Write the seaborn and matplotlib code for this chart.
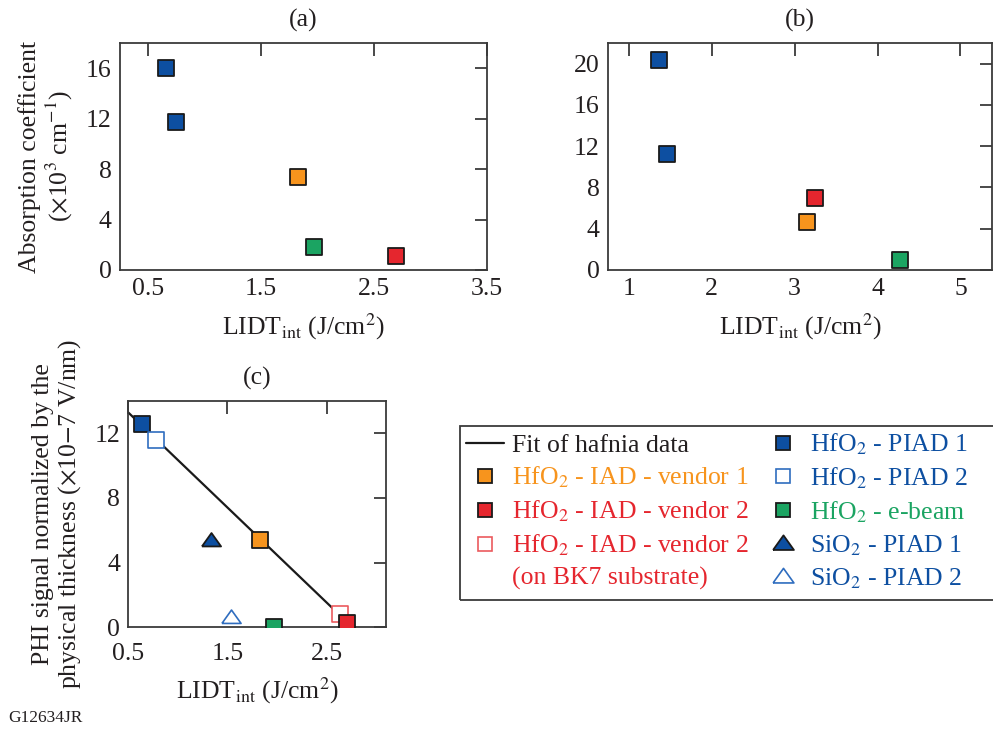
import numpy as np
import pandas as pd
import matplotlib
matplotlib.use("Agg")
import matplotlib.pyplot as plt
from matplotlib.lines import Line2D
from matplotlib.patches import Rectangle
import seaborn as sns

sns.set_theme(style="white")
plt.rcParams["font.family"] = ["Liberation Serif", "DejaVu Serif"]
plt.rcParams["mathtext.fontset"] = "stix"

# ---- colours per deposition process ----
BLUE = "#0D4FA1"
ORANGE = "#F7941D"
RED = "#E5262E"
GREEN = "#1BA462"
OPEN_BLUE = "#2F6DBF"
OPEN_RED = "#EB5A5E"
TEXT = "#231F20"

# ---- (a) absorption coefficient vs LIDT ----
a_series = ["HfO2 PIAD 1", "HfO2 PIAD 1", "HfO2 IAD vendor 1", "HfO2 e-beam", "HfO2 IAD vendor 2"]
a_lidt = [0.66, 0.75, 1.83, 1.97, 2.69]
a_absorption = [16.0, 11.7, 7.4, 1.8, 1.1]

# ---- (b) absorption coefficient vs LIDT ----
b_series = ["HfO2 PIAD 1", "HfO2 PIAD 1", "HfO2 IAD vendor 2", "HfO2 IAD vendor 1", "HfO2 e-beam"]
b_lidt = [1.36, 1.46, 3.25, 3.15, 4.27]
b_absorption = [20.4, 11.2, 7.0, 4.7, 1.0]

# ---- (c) normalized PHI signal vs LIDT ----
c_series = ["HfO2 PIAD 1", "HfO2 PIAD 2", "SiO2 PIAD 1", "HfO2 IAD vendor 1",
            "SiO2 PIAD 2", "HfO2 e-beam", "HfO2 IAD vendor 2 BK7", "HfO2 IAD vendor 2"]
c_lidt = [0.64, 0.78, 1.33, 1.83, 1.54, 1.97, 2.64, 2.71]
c_phi = [12.57, 11.56, 5.38, 5.4, 0.64, 0.0, 0.82, 0.25]

# hafnia points used for the linear fit (e-beam sample excluded)
fit_series = ["HfO2 PIAD 1", "HfO2 PIAD 2", "HfO2 IAD vendor 1", "HfO2 IAD vendor 2 BK7", "HfO2 IAD vendor 2"]
fit_x_range = [0.5, 2.57]

# a slightly flattened triangle marker
TRI = [(-1.0, -0.62), (1.0, -0.62), (0.0, 0.78), (-1.0, -0.62)]

# marker style of every sample type: (marker, face, edge, edge width)
styles = {
    "HfO2 PIAD 1": ("s", BLUE, "#1a1a1a", 1.3),
    "HfO2 PIAD 2": ("s", "white", OPEN_BLUE, 1.2),
    "HfO2 IAD vendor 1": ("s", ORANGE, "#1a1a1a", 1.3),
    "HfO2 IAD vendor 2": ("s", RED, "#1a1a1a", 1.3),
    "HfO2 IAD vendor 2 BK7": ("s", "white", OPEN_RED, 1.2),
    "HfO2 e-beam": ("s", GREEN, "#1a1a1a", 1.3),
    "SiO2 PIAD 1": (TRI, BLUE, "#1a1a1a", 1.3),
    "SiO2 PIAD 2": (TRI, "white", OPEN_BLUE, 1.2),
}

FS = 18.5
fig = plt.figure(figsize=(9.93, 7.33), dpi=100)
W, H = 993, 733


def add_axes(left, top, right, bottom):
    return fig.add_axes([left / W, 1 - bottom / H, (right - left) / W, (bottom - top) / H])


ax_a = add_axes(120, 43, 487, 270)
ax_b = add_axes(608, 43, 992, 270)
ax_c = add_axes(128.3, 401, 386, 627.3)


def scatter(ax, series, xs, ys):
    df = pd.DataFrame({"series": series, "x": xs, "y": ys})
    for name, grp in df.groupby("series", sort=False):
        m, fc, ec, lw = styles[name]
        size = 190 if m is TRI else 120
        sns.scatterplot(data=grp, x="x", y="y", ax=ax, marker=m, s=size,
                        color=fc, edgecolor=ec, linewidth=lw, zorder=3, legend=False)


def style_axes(ax, title, xlim, ylim, xticks, yticks, xpad=6):
    ax.set_xlim(*xlim)
    ax.set_ylim(*ylim)
    ax.set_xticks(xticks)
    ax.set_yticks(yticks)
    ax.tick_params(direction="in", length=9, width=1.3, color="#3a3a3a",
                   top=True, right=True, labelsize=FS, labelcolor=TEXT, pad=6)
    ax.tick_params(axis="x", pad=xpad)
    for sp in ax.spines.values():
        sp.set_visible(True)
        sp.set_color("#3a3a3a")
        sp.set_linewidth(1.3)
    ax.set_title(title, fontsize=FS, color=TEXT, pad=12)
    ax.set_xlabel(r"LIDT$_{\mathrm{int}}$ (J/cm$^{2}$)", fontsize=FS, color=TEXT, labelpad=8)
    ax.set_ylabel("")


scatter(ax_a, a_series, a_lidt, a_absorption)
style_axes(ax_a, "(a)", (0.25, 3.5), (0, 18), [0.5, 1.5, 2.5, 3.5], [0, 4, 8, 12, 16])
ax_a.set_ylabel("Absorption coefficient\n" + r"($\times$10$^{3}$ cm$^{-1}$)",
                fontsize=FS, color=TEXT, linespacing=1.1, labelpad=8)

scatter(ax_b, b_series, b_lidt, b_absorption)
style_axes(ax_b, "(b)", (0.75, 5.38), (0, 22), [1, 2, 3, 4, 5], [0, 4, 8, 12, 16, 20])

# fitted line of the hafnia data
fit_df = pd.DataFrame({"series": c_series, "x": c_lidt, "y": c_phi})
fit_df = fit_df[fit_df["series"].isin(fit_series)]
slope, intercept = np.polyfit(fit_df["x"], fit_df["y"], 1)
line_x = np.array(fit_x_range)
line_df = pd.DataFrame({"x": line_x, "y": slope * line_x + intercept})
sns.lineplot(data=line_df, x="x", y="y", ax=ax_c, color="#1a1a1a", linewidth=1.6, zorder=2)

scatter(ax_c, c_series, c_lidt, c_phi)
style_axes(ax_c, "(c)", (0.5, 3.1), (0, 14), [0.5, 1.5, 2.5], [0, 4, 8, 12], xpad=11)
ax_c.set_ylabel("PHI signal normalized by the\n" + r"physical thickness ($\times$10$-$7 V/nm)",
                fontsize=FS, color=TEXT, linespacing=1.1, labelpad=8)


def handle(name):
    m, fc, ec, lw = styles[name]
    return Line2D([], [], linestyle="none", marker=m, markersize=10 if m == "s" else 15,
                  markerfacecolor=fc, markeredgecolor=ec, markeredgewidth=lw)


blank = Line2D([], [], linestyle="none", marker=None)
handles = [
    Line2D([], [], color="#1a1a1a", linewidth=1.6),
    handle("HfO2 IAD vendor 1"),
    handle("HfO2 IAD vendor 2"),
    handle("HfO2 IAD vendor 2 BK7"),
    blank,
    handle("HfO2 PIAD 1"),
    handle("HfO2 PIAD 2"),
    handle("HfO2 e-beam"),
    handle("SiO2 PIAD 1"),
    handle("SiO2 PIAD 2"),
]
labels = [
    "Fit of hafnia data",
    r"HfO$_{2}$ - IAD - vendor 1",
    r"HfO$_{2}$ - IAD - vendor 2",
    r"HfO$_{2}$ - IAD - vendor 2",
    "(on BK7 substrate)",
    r"HfO$_{2}$ - PIAD 1",
    r"HfO$_{2}$ - PIAD 2",
    r"HfO$_{2}$ - e-beam",
    r"SiO$_{2}$ - PIAD 1",
    r"SiO$_{2}$ - PIAD 2",
]
label_colors = [TEXT, ORANGE, RED, RED, RED, BLUE, BLUE, GREEN, BLUE, BLUE]

leg = fig.legend(handles, labels, loc="upper left", ncol=2,
                 bbox_to_anchor=(460 / W, 1 - 426 / H), frameon=False,
                 fontsize=FS, handlelength=1.5, handletextpad=0.3, columnspacing=0.6,
                 labelspacing=0.32, borderpad=0.22, borderaxespad=0)
for t, c in zip(leg.get_texts(), label_colors):
    t.set_color(c)

# legend box running out past the right edge of the figure
fig.patches.append(Rectangle((460 / W, 1 - 600 / H), 560 / W, 174 / H,
                             transform=fig.transFigure, fill=False,
                             edgecolor="#3a3a3a", linewidth=1.3))

fig.text(8 / W, 1 - 718 / H, "G12634JR", fontsize=12.5, color=TEXT, va="center")

fig.savefig("out.png", dpi=100)
